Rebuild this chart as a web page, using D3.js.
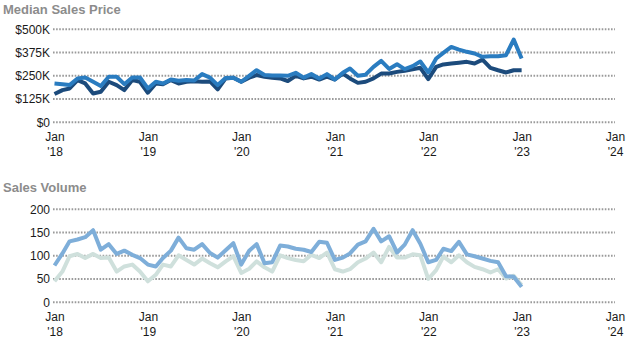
<!DOCTYPE html>
<html>
<head>
<meta charset="utf-8">
<script src="https://cdn.jsdelivr.net/npm/d3@7"></script>
<style>
  html, body { margin: 0; padding: 0; background: #fff; }
  svg { display: block; font-family: "Liberation Sans", Arial, sans-serif; }
</style>
</head>
<body>
<svg id="chart" width="633" height="350"></svg>
<script>
// ---- data (monthly, Jan 2018 .. Jan 2023) ----
const startMonth = "2018-01";
const priceDark = [152,173,182,227,209,155,164,218,200,173,227,218,
  159,209,205,227,209,218,221,218,220,177,236,240,
  218,240,254,245,240,236,222,250,236,245,230,245,
  230,262,236,212,218,236,262,262,271,277,285,293,
  232,298,311,316,320,325,316,337,293,280,268,280,280];
const priceLight = [209,205,200,236,241,218,195,245,245,205,241,241,
  182,218,209,230,223,227,225,259,240,200,238,240,
  218,250,280,254,252,252,250,266,240,259,236,259,
  230,266,289,250,256,298,330,287,312,286,302,327,
  268,343,373,405,391,379,370,352,355,355,361,445,343];
const volBlue = [79,105,131,135,140,155,113,125,104,111,102,95,
  81,77,95,111,139,116,113,125,106,96,112,127,
  81,111,125,84,86,122,120,115,113,108,130,128,
  91,96,105,124,131,158,131,142,107,124,155,126,
  86,91,115,110,130,103,99,94,89,86,56,55,33];
const volPale = [45,66,99,104,95,104,95,96,66,77,81,66,
  45,59,81,77,101,91,81,94,84,75,88,99,
  63,72,88,75,66,101,95,91,88,102,95,107,
  71,66,71,86,94,107,86,119,96,96,103,101,
  50,69,98,86,101,86,76,71,64,71,51,57,37];
const priceTicks = [0,125,250,375,500];            // $K
const priceTickLabels = ["$0","$125K","$250K","$375K","$500K"];
const volTicks = [0,50,100,150,200];
const yearTicks = [2018,2019,2020,2021,2022,2023,2024];
const yearTickLabels = ["'18","'19","'20","'21","'22","'23","'24"];
const titles = ["Median Sales Price","Sales Volume"];

// ---- helpers ----
const svg = d3.select("#chart");
const t0 = d3.timeParse("%Y-%m")(startMonth);
const months = d3.range(priceDark.length).map(i => d3.timeMonth.offset(t0, i));
const x = d3.scaleTime()
  .domain([new Date(2018,0,1), new Date(2024,0,1)])
  .range([54.5, 615]);
const xTickDates = yearTicks.map(y => new Date(y,0,1));

function panel(cfg) {
  const g = svg.append("g");
  const y = d3.scaleLinear().domain(cfg.domain).range(cfg.range);

  g.append("text")
    .attr("x", 3).attr("y", cfg.titleY)
    .attr("fill", "#8c8c8c")
    .attr("font-weight", "bold")
    .attr("font-size", 13)
    .text(cfg.title);

  // grid
  g.append("g").selectAll("line").data(cfg.ticks).join("line")
    .attr("x1", 53).attr("x2", 615)
    .attr("y1", d => y(d)).attr("y2", d => y(d))
    .attr("stroke", "#9a9a9a")
    .attr("stroke-width", 2)
    .attr("stroke-dasharray", "1.6,1.5");

  // y axis
  const ya = g.append("g").attr("transform", "translate(53,0)")
    .call(d3.axisLeft(y).tickValues(cfg.ticks).tickSize(0).tickPadding(3)
      .tickFormat((d,i) => cfg.tickLabels[i]));
  ya.select(".domain").remove();
  ya.selectAll("text").attr("font-size", 12).attr("fill", "#1a1a1a")
    .attr("font-family", "'Liberation Sans', Arial, sans-serif");

  // x axis
  const xa = g.append("g").attr("transform", `translate(0,${cfg.range[0]})`)
    .call(d3.axisBottom(x).tickValues(xTickDates).tickSize(0).tickFormat(() => ""));
  xa.select(".domain").remove();
  xa.selectAll(".tick text").each(function(d, i) {
    const t = d3.select(this).attr("y", null).attr("dy", null)
      .attr("font-size", 12).attr("fill", "#1a1a1a")
      .attr("font-family", "'Liberation Sans', Arial, sans-serif");
    t.append("tspan").attr("x", 0).attr("y", 18.8).text("Jan");
    t.append("tspan").attr("x", 0).attr("y", 33.8).text(yearTickLabels[i]);
  });

  const line = d3.line().x((d,i) => x(months[i])).y(d => y(d));
  cfg.series.forEach(s => {
    g.append("path").datum(s.values)
      .attr("fill", "none")
      .attr("stroke", s.color)
      .attr("stroke-width", 4)
      .attr("stroke-linejoin", "round")
      .attr("stroke-linecap", "butt")
      .attr("d", line);
  });
}

panel({
  title: titles[0], titleY: 13.5,
  domain: [0, 500], range: [122.3, 29.3],
  ticks: priceTicks, tickLabels: priceTickLabels,
  series: [
    { values: priceDark, color: "#1c4b7c" },
    { values: priceLight, color: "#2a7cc0" }
  ]
});
panel({
  title: titles[1], titleY: 191.5,
  domain: [0, 200], range: [302.2, 209.3],
  ticks: volTicks, tickLabels: volTicks.map(String),
  series: [
    { values: volPale, color: "#cfe0dc" },
    { values: volBlue, color: "#7eaed9" }
  ]
});
</script>
</body>
</html>
